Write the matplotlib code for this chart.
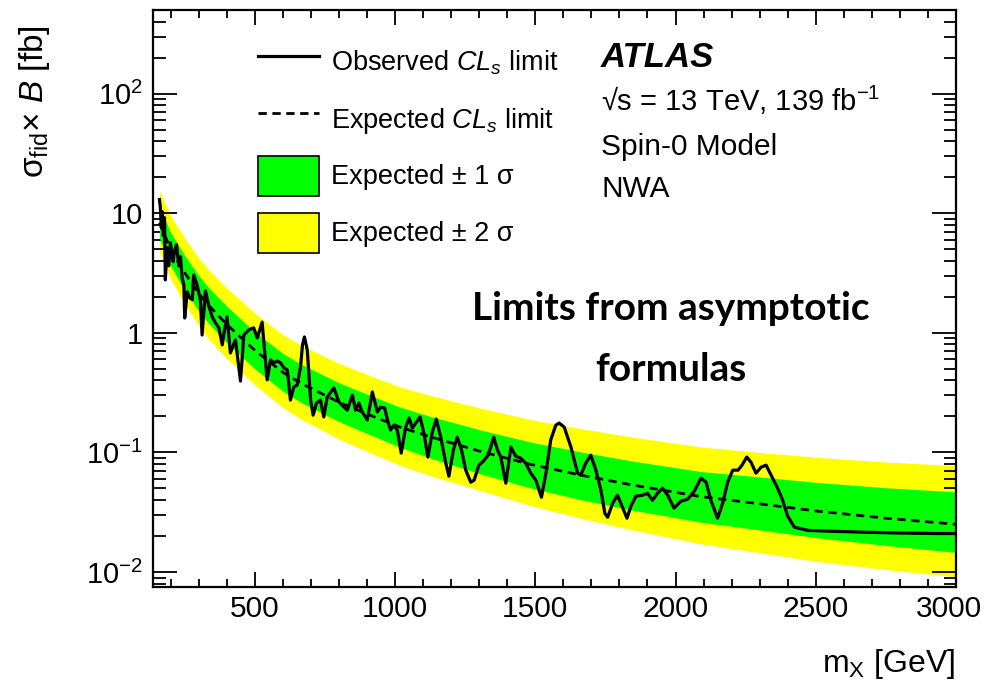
import matplotlib
matplotlib.use("Agg")
import matplotlib.pyplot as plt
import matplotlib.transforms as mtransforms
from matplotlib.lines import Line2D
from matplotlib.patches import Patch
from matplotlib.ticker import FixedLocator, MultipleLocator, LogLocator, NullFormatter

plt.rcParams['font.family'] = ['Liberation Sans', 'DejaVu Sans']
plt.rcParams['mathtext.fontset'] = 'custom'
plt.rcParams['mathtext.rm'] = 'Liberation Sans'
plt.rcParams['mathtext.it'] = 'Liberation Sans:italic'
plt.rcParams['mathtext.bf'] = 'Liberation Sans:bold'

# ---------------- data ----------------
exp_mass = [160, 200, 245, 300, 335, 400, 502, 600, 663, 800, 913, 1020, 1127, 1305, 1484, 1662,
            1841, 2091, 2300, 2501, 2750, 3000]
exp_limit = [8.32, 5.01, 3.31, 2.14, 1.70, 1.175, 0.708, 0.468, 0.380, 0.263, 0.204, 0.162, 0.135,
             0.102, 0.0794, 0.0646, 0.0537, 0.0427, 0.0372, 0.0324, 0.0282, 0.0251]
exp_p2 = [15.5, 9.55, 6.46, 4.22, 3.39, 2.37, 1.45, 0.966, 0.794, 0.556, 0.437, 0.351, 0.299,
          0.234, 0.188, 0.158, 0.135, 0.111, 0.100, 0.0912, 0.0832, 0.0776]
exp_p1 = [11.3, 6.92, 4.62, 3.01, 2.40, 1.67, 1.01, 0.673, 0.550, 0.382, 0.299, 0.238, 0.200,
          0.154, 0.122, 0.101, 0.0851, 0.0692, 0.0624, 0.0562, 0.0507, 0.0468]
exp_m1 = [6.11, 3.63, 2.37, 1.52, 1.20, 0.828, 0.495, 0.325, 0.263, 0.181, 0.140, 0.110, 0.0895,
          0.0661, 0.0504, 0.0403, 0.0331, 0.0261, 0.0225, 0.0194, 0.0167, 0.0146]
exp_m2 = [4.84, 2.82, 1.82, 1.15, 0.891, 0.610, 0.363, 0.237, 0.191, 0.129, 0.0989, 0.0776, 0.0638,
          0.0479, 0.0359, 0.0282, 0.0226, 0.0172, 0.0145, 0.0123, 0.0105, 0.00912]

obs_mass = [160, 163, 167, 170, 174, 178, 181, 187, 193, 199, 209, 213, 221, 229, 235, 241, 247, 250,
            259, 268, 277, 282, 294, 306, 312, 324, 335, 348, 360, 372, 384, 392, 401, 413, 431, 449,
            461, 479, 496, 509, 526, 544, 556, 568, 580, 592, 604, 616, 627, 639, 651, 663, 670, 677,
            687, 699, 708, 720, 734, 746, 758, 782, 800, 818, 830, 848, 859, 871, 883, 901, 919, 937,
            949, 963, 973, 984, 996, 1008, 1022, 1038, 1050, 1062, 1074, 1089, 1103, 1117, 1133, 1147,
            1163, 1181, 1192, 1208, 1222, 1237, 1252, 1270, 1282, 1299, 1315, 1332, 1352, 1365, 1377,
            1395, 1413, 1430, 1448, 1466, 1484, 1502, 1522, 1538, 1555, 1573, 1585, 1603, 1627, 1651,
            1662, 1680, 1698, 1716, 1734, 1748, 1758, 1776, 1793, 1811, 1827, 1841, 1859, 1883, 1900,
            1918, 1936, 1954, 1972, 1995, 2019, 2043, 2067, 2091, 2109, 2126, 2150, 2168, 2186, 2204,
            2223, 2237, 2254, 2269, 2287, 2305, 2323, 2341, 2364, 2382, 2400, 2424, 2472, 2566, 2686,
            2805, 2923, 3000]
obs_limit = [13.0, 11.3, 7.56, 10.3, 6.48, 9.17, 2.77, 5.14, 3.63, 5.66, 3.93, 4.76, 5.45, 3.63, 4.32,
             2.88, 2.52, 1.33, 2.20, 1.96, 1.89, 3.05, 2.52, 1.89, 0.959, 2.24, 1.71, 1.36, 1.21, 1.10,
             0.793, 1.06, 1.36, 0.679, 0.873, 0.395, 0.959, 1.06, 1.10, 0.906, 1.23, 0.404, 0.593,
             0.560, 0.582, 0.560, 0.508, 0.489, 0.274, 0.352, 0.366, 0.518, 0.793, 0.924, 0.719,
             0.274, 0.205, 0.259, 0.274, 0.198, 0.290, 0.346, 0.264, 0.239, 0.226, 0.302, 0.226,
             0.259, 0.218, 0.187, 0.320, 0.218, 0.239, 0.235, 0.187, 0.154, 0.169, 0.154, 0.0987,
             0.163, 0.194, 0.160, 0.176, 0.198, 0.145, 0.0914, 0.148, 0.190, 0.134, 0.0813, 0.0633,
             0.105, 0.134, 0.105, 0.0711, 0.0564, 0.0586, 0.0783, 0.0845, 0.0949, 0.134, 0.105,
             0.0914, 0.0553, 0.111, 0.0931, 0.0896, 0.0813, 0.0671, 0.0586, 0.0422, 0.0671, 0.127,
             0.169, 0.176, 0.163, 0.111, 0.0671, 0.0645, 0.0813, 0.0949, 0.0711, 0.0483, 0.0310,
             0.0287, 0.0376, 0.0439, 0.0348, 0.0282, 0.0355, 0.0431, 0.0439, 0.0456, 0.0398, 0.0456,
             0.0502, 0.0439, 0.0342, 0.0391, 0.0406, 0.0474, 0.0609, 0.0564, 0.0398, 0.0282, 0.0376,
             0.0564, 0.0711, 0.0711, 0.0783, 0.0914, 0.0829, 0.0671, 0.0753, 0.0783, 0.0645, 0.0502,
             0.0398, 0.0293, 0.0237, 0.0223, 0.0219, 0.0215, 0.0212, 0.0210, 0.0210]

ytick_vals = [0.01, 0.1, 1, 10, 100]
ytick_labels = [r'$10^{-2}$', r'$10^{-1}$', '1', '10', r'$10^{2}$']
xtick_vals = [500, 1000, 1500, 2000, 2500, 3000]

# ---------------- figure ----------------
fig = plt.figure(figsize=(9.85, 6.86), dpi=100)
ax = fig.add_axes([153 / 985, 1 - 587 / 686, 803 / 985, 577 / 686])
ax.set_yscale('log')
ax.set_xlim(137, 3000)
ax.set_ylim(0.0075, 500)

ax.fill_between(exp_mass, exp_m2, exp_p2, color='#ffff00', lw=0, zorder=1)
ax.fill_between(exp_mass, exp_m1, exp_p1, color='#00ff00', lw=0, zorder=2)
ax.plot(exp_mass, exp_limit, color='black', lw=2.0, ls=(0, (3, 2)), zorder=3)
ax.plot(obs_mass, obs_limit, color='black', lw=2.3, solid_joinstyle='round', zorder=4)

# ticks
ax.yaxis.set_major_locator(FixedLocator(ytick_vals))
ax.set_yticklabels(ytick_labels)
ax.yaxis.set_minor_locator(LogLocator(base=10, subs=[2, 3, 4, 5, 6, 7, 8, 9], numticks=20))
ax.yaxis.set_minor_formatter(NullFormatter())
ax.xaxis.set_major_locator(FixedLocator(xtick_vals))
ax.xaxis.set_minor_locator(MultipleLocator(100))
ax.tick_params(axis='both', which='both', direction='in', top=True, right=True, width=1.3,
               colors='black')
ax.tick_params(axis='y', which='major', length=17, pad=7, labelsize=21)
ax.tick_params(axis='y', which='minor', length=9)
ax.tick_params(axis='x', which='major', length=11, pad=6, labelsize=21.5)
ax.tick_params(axis='x', which='minor', length=6)
for s in ax.spines.values():
    s.set_linewidth(1.6)
# nudge last x label so it stays inside the canvas
last = ax.get_xticklabels()[-1]
last.set_transform(last.get_transform() + mtransforms.ScaledTranslation(-5 / 72, 0, fig.dpi_scale_trans))

# axis labels
fig.text(955 / 985, 1 - 672 / 686, r'm$_{\rm X}$ [GeV]', ha='right', va='baseline', fontsize=23)
fig.text(34 / 985, 1 - 25 / 686, r'σ$_{\rm fid}$$\times$ $B$ [fb]', rotation=90,
         ha='center', va='top', fontsize=24)

# legend
handles = [Line2D([], [], color='black', lw=2.3),
           Line2D([], [], color='black', lw=2.0, ls=(0, (3, 2))),
           Patch(facecolor='#00ff00', edgecolor='black', lw=1.2),
           Patch(facecolor='#ffff00', edgecolor='black', lw=1.2)]
labels = [r'Observed $CL_s$ limit', r'Expected $CL_s$ limit',
          'Expected ± 1 σ', 'Expected ± 2 σ']
ax.legend(handles, labels, loc='upper left', bbox_to_anchor=((258 - 153) / 803, (587 - 42) / 577),
          frameon=False, fontsize=19.5, borderpad=0, borderaxespad=0, handlelength=2.25,
          handleheight=1.9, labelspacing=0.62, handletextpad=0.45)

# ATLAS label
fig.text(601 / 985, 1 - 67 / 686, 'ATLAS', fontsize=25, fontweight='bold', fontstyle='italic',
         ha='left', va='baseline')
fig.text(601 / 985, 1 - 111 / 686, '√s = 13 TeV, 139 fb$^{-1}$', fontsize=21, ha='left', va='baseline')
fig.text(601 / 985, 1 - 155 / 686, 'Spin-0 Model', fontsize=21.5, ha='left', va='baseline')
fig.text(601 / 985, 1 - 197 / 686, 'NWA', fontsize=21.5, ha='left', va='baseline')

fig.text(671 / 985, 1 - 320 / 686, 'Limits from asymptotic', family='Lato', fontweight='bold',
         fontsize=28, ha='center', va='baseline')
fig.text(671 / 985, 1 - 381 / 686, 'formulas', family='Lato', fontweight='bold',
         fontsize=28, ha='center', va='baseline')

fig.savefig('out.png', dpi=100)
